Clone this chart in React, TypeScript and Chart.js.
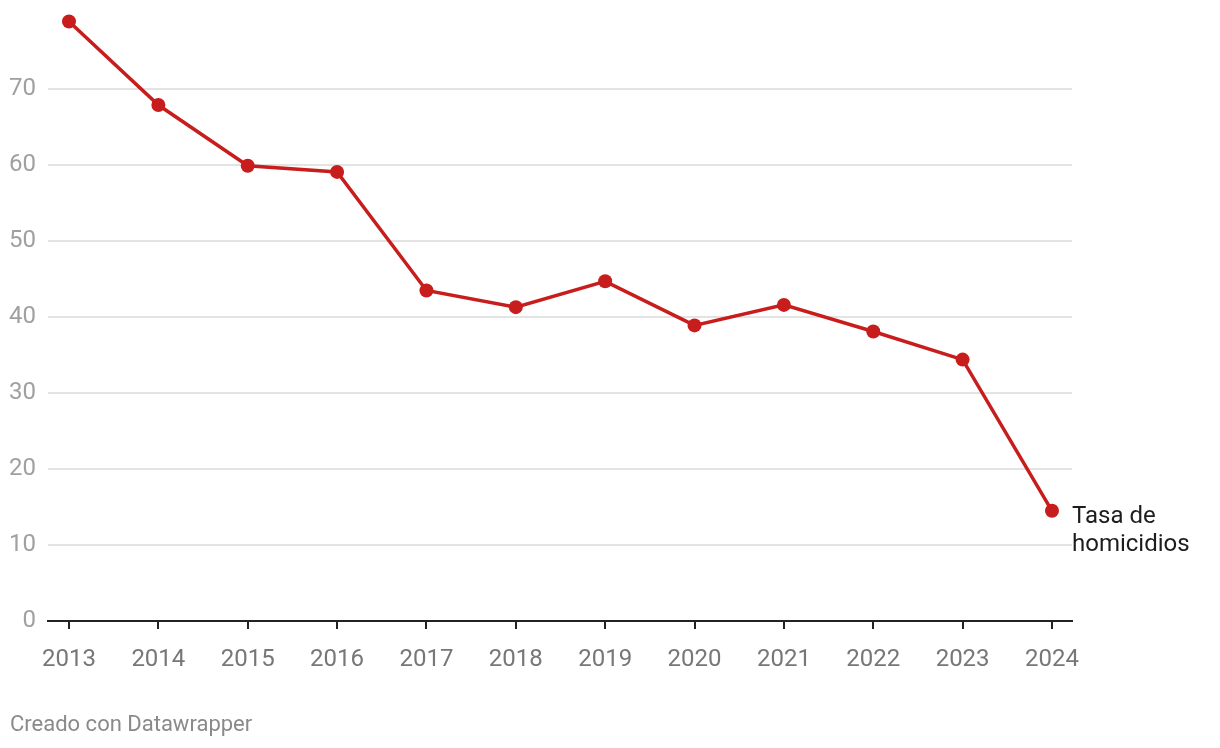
import React, { useEffect, useRef } from "react";
import { Chart, registerables } from "chart.js";

Chart.register(...registerables);

const years = [2013, 2014, 2015, 2016, 2017, 2018, 2019, 2020, 2021, 2022, 2023, 2024];
const homicideRate = [78.9, 67.9, 59.9, 59.1, 43.5, 41.3, 44.7, 38.9, 41.6, 38.1, 34.4, 14.5];
const yTicks = [0, 10, 20, 30, 40, 50, 60, 70];
const seriesLabel = ["Tasa de", "homicidios"];
const footerText = "Creado con Datawrapper";

const FONT = "Roboto, 'Noto Sans', sans-serif";
const RED = "#c71e1d";

export default function App() {
  const ref = useRef<HTMLCanvasElement | null>(null);

  useEffect(() => {
    if (!ref.current) return;
    const labelPlugin = {
      id: "endLabel",
      afterDatasetsDraw(chart: any) {
        const meta = chart.getDatasetMeta(0);
        const last = meta.data[meta.data.length - 1];
        if (!last) return;
        const ctx = chart.ctx;
        ctx.save();
        ctx.font = `24px ${FONT}`;
        ctx.fillStyle = "#1d1d1d";
        ctx.textAlign = "left";
        ctx.textBaseline = "middle";
        seriesLabel.forEach((t, i) => {
          ctx.fillText(t, last.x + 20, last.y + 6 + i * 28);
        });
        ctx.restore();
      },
    };

    const chart = new Chart(ref.current, {
      type: "line",
      data: {
        datasets: [
          {
            label: seriesLabel.join(" "),
            data: years.map((y, i) => ({ x: y, y: homicideRate[i] })),
            borderColor: RED,
            backgroundColor: RED,
            borderWidth: 3.5,
            pointRadius: 7,
            pointHoverRadius: 7,
            pointBorderWidth: 0,
            pointBackgroundColor: RED,
            tension: 0,
            clip: false as any,
          },
        ],
      },
      options: {
        animation: false,
        responsive: false,
        maintainAspectRatio: false,
        layout: { padding: { left: 0, right: 148, top: 0, bottom: 0 } },
        plugins: {
          legend: { display: false },
          tooltip: { enabled: false },
        },
        scales: {
          x: {
            type: "linear",
            min: 2012.765,
            max: 2024.224,
            afterBuildTicks: (scale: any) => {
              scale.ticks = years.map((v) => ({ value: v }));
            },
            afterFit: (scale: any) => {
              scale.height = 127;
              scale.paddingLeft = 0;
              scale.paddingRight = 0;
            },
            grid: {
              drawOnChartArea: false,
              drawTicks: true,
              tickLength: 8,
              color: "#222222",
              lineWidth: 2,
            },
            border: { display: true, color: "#222222", width: 2 },
            ticks: {
              color: "#777777",
              font: { family: FONT, size: 24 },
              padding: 17,
              maxRotation: 0,
              autoSkip: false,
              callback: (v: any) => String(v),
            },
          },
          y: {
            type: "linear",
            min: 0,
            max: 80.8,
            afterBuildTicks: (scale: any) => {
              scale.ticks = yTicks.map((v) => ({ value: v }));
            },
            afterFit: (scale: any) => {
              scale.width = 48;
              scale.paddingTop = 0;
              scale.paddingBottom = 0;
            },
            grid: {
              drawTicks: false,
              color: (c: any) => (c.tick && c.tick.value === 0 ? "rgba(0,0,0,0)" : "#e3e3e3"),
              lineWidth: 2,
            },
            border: { display: false },
            ticks: {
              color: "#a0a0a0",
              font: { family: FONT, size: 24 },
              padding: 12,
              callback: (v: any) => String(v),
            },
          },
        },
      },
      plugins: [labelPlugin],
    } as any);
    return () => chart.destroy();
  }, []);

  return (
    <div style={{ position: "fixed", left: 0, top: 0, width: 1220, height: 748, background: "#fff" }}>
      <canvas ref={ref} width={1220} height={748} style={{ display: "block" }} />
      <div
        style={{
          position: "absolute",
          left: 10,
          top: 710,
          fontFamily: FONT,
          fontSize: 22,
          color: "#8a8a8a",
          lineHeight: "28px",
        }}
      >
        {footerText}
      </div>
    </div>
  );
}
